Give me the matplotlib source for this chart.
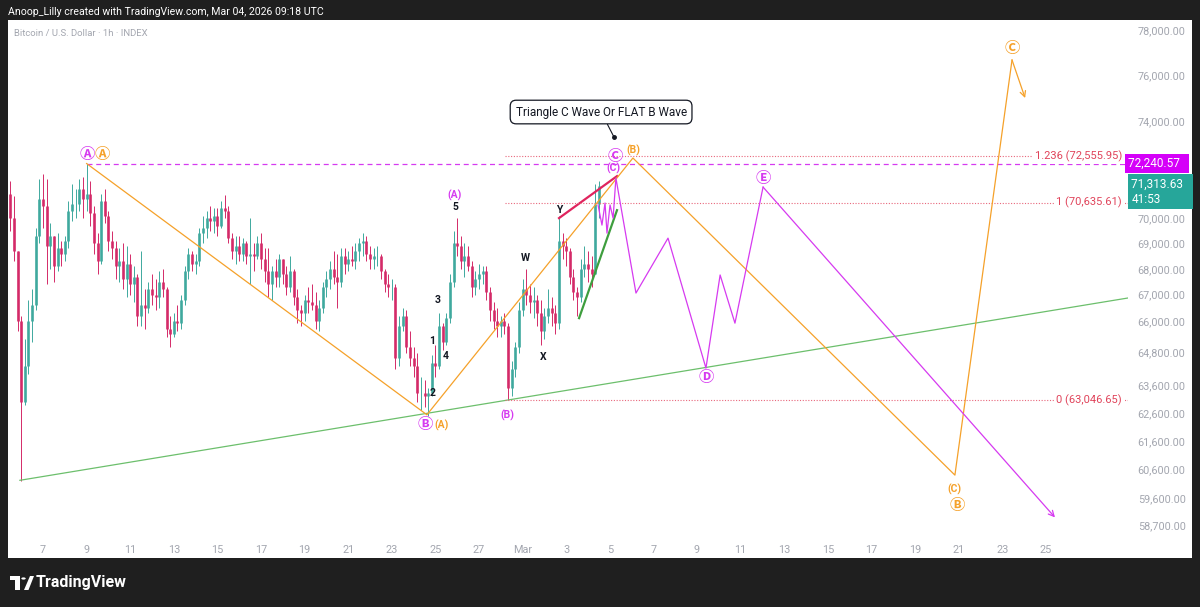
import numpy as np
import matplotlib
matplotlib.use("Agg")
import matplotlib.pyplot as plt
from matplotlib import transforms
from matplotlib.patches import Rectangle, Polygon, Circle
from matplotlib.ticker import NullLocator, NullFormatter

plt.rcParams['font.family'] = ['Roboto', 'DejaVu Sans', 'Noto Sans CJK JP']

# x axis is "day of February" (Mar 1 = 29), bars are 4h, first bar Feb 5 12:00
FIRST_BAR = 5.5
BAR_STEP = 1 / 6
first_open = 71000

highs = [71500, 70900, 68300, 66200, 65300, 66800, 67200, 69600, 71600, 71800,
         71600, 69800, 69300, 69400, 69100, 69300, 70700, 71400, 71200, 71600,
         71700, 72240, 71500, 70500, 69400, 71000, 71200, 70300, 69500, 69100,
         68800, 69000, 68900, 68600, 68100, 67800, 68700, 67200, 67500, 67800,
         67600, 67900, 68000, 67300, 66200, 66300, 66600, 67000, 68100, 68800,
         68700, 68600, 69600, 70100, 70300, 70500, 70400, 70400, 70700, 70950,
         70500, 69400, 69300, 69300, 69200, 69100, 70000, 69000, 69300, 69400,
         68800, 68800, 68100, 68400, 68600, 68400, 68100, 68500, 68000, 67200,
         66600, 67000, 67300, 67400, 67100, 66800, 67500, 67900, 68300, 68700,
         68600, 68800, 68800, 68700, 68900, 69000, 69200, 69400, 69300, 68900,
         68800, 68900, 68600, 68000, 67800, 67600, 67400, 66200, 66500, 66400,
         65600, 65000, 64800, 63900, 63800, 63500, 64700, 65100, 66300, 65900,
         66300, 67800, 69500, 70000, 69300, 69000, 68900, 68300, 67900, 68200,
         68100, 68100, 67300, 66700, 66500, 66200, 66300, 65900, 64500, 65200,
         66700, 67600, 68000, 67400, 67300, 67000, 66800, 66500, 67200, 66900,
         66600, 70100, 69400, 69200, 68800, 68000, 67300, 68400, 68900, 68700,
         68500, 71400, 71500]
lows = [69500, 68300, 65600, 60200, 62900, 64000, 65200, 66400, 69000, 69600,
        67400, 68000, 67500, 67900, 68100, 68300, 68800, 69900, 70000, 70300,
        70000, 70300, 69700, 68600, 67800, 68200, 69800, 68700, 68400, 67600,
        67500, 67200, 66900, 67000, 66700, 65800, 65800, 65700, 66300, 66600,
        66400, 66500, 66900, 65400, 65000, 65400, 65600, 65700, 66600, 67600,
        67900, 67800, 68100, 69000, 69200, 69500, 69400, 69300, 69600, 70000,
        69000, 68400, 68200, 68300, 68300, 68200, 67400, 67900, 68400, 68000,
        67500, 66900, 66800, 67300, 67300, 67400, 67000, 67100, 66600, 65900,
        65800, 66000, 66300, 66400, 65700, 65600, 66300, 66900, 67200, 67400,
        66500, 67300, 67800, 67900, 68100, 68000, 68300, 68500, 68300, 68000,
        68000, 68100, 67600, 67100, 66900, 66800, 64200, 64300, 65600, 64800,
        64300, 63900, 63000, 62700, 62800, 62500, 63200, 63900, 64200, 64900,
        65100, 65900, 67300, 68500, 68000, 67700, 67900, 66900, 67000, 67200,
        67400, 66800, 66000, 65700, 65400, 65400, 65500, 63050, 63200, 63900,
        64800, 66200, 66600, 66300, 66100, 65800, 65100, 65300, 65900, 65800,
        65500, 65700, 68400, 68100, 67400, 66800, 66200, 66700, 67700, 67500,
        67300, 67800, 70000]
closes = [70000, 68700, 66000, 63000, 64300, 66000, 66600, 69300, 70800, 70500,
          68900, 69300, 68100, 68800, 68600, 69100, 70300, 70600, 70600, 71200,
          70800, 71000, 70200, 69000, 68300, 70700, 70100, 69100, 68800, 68100,
          68300, 67600, 68200, 67400, 67700, 66200, 66600, 66500, 67200, 67000,
          66900, 67500, 67200, 65700, 65500, 66000, 65900, 66800, 67900, 68600,
          68200, 68300, 69400, 69600, 70000, 69900, 70100, 69700, 70400, 70300,
          69200, 68700, 68900, 68600, 69000, 68500, 68600, 68500, 69000, 68400,
          67900, 67400, 67900, 67700, 68400, 67800, 67300, 67900, 66900, 66400,
          66300, 66800, 66700, 66600, 66000, 66500, 67300, 67600, 68000, 67700,
          67500, 68500, 68200, 68400, 68300, 68700, 69000, 69100, 68600, 68400,
          68500, 68500, 67900, 67400, 67300, 67300, 64600, 65800, 66200, 65000,
          64600, 64300, 63300, 63300, 63200, 63300, 64400, 64300, 65800, 65200,
          66100, 67500, 69000, 68900, 68300, 68500, 68100, 67300, 67600, 67800,
          67900, 67100, 66400, 66000, 65800, 66000, 65800, 63500, 64200, 65000,
          66400, 67200, 67000, 66700, 66800, 66300, 65600, 66200, 66500, 66300,
          65900, 69100, 68900, 68700, 67700, 67100, 66900, 68000, 68200, 68000,
          67800, 70600, 71313.63]

# y axis ticks shown by TradingView (log scale)
price_ticks = [78000, 76000, 74000, 70000, 69000, 68000, 67000, 66000,
               64800, 63600, 62600, 61600, 60600, 59600, 58700]
date_ticks = [7, 9, 11, 13, 15, 17, 19, 21, 23, 25, 27, 29, 31, 33, 35, 37,
              39, 41, 43, 45, 47, 49, 51, 53]
date_labels = ["7", "9", "11", "13", "15", "17", "19", "21", "23", "25", "27",
               "Mar", "3", "5", "7", "9", "11", "13", "15", "17", "19", "21",
               "23", "25"]

# drawn wave paths (day, price)
orange_days = [9.0, 24.61, 34.06, 48.83, 51.45, 52.05]
orange_prices = [72240, 62530, 72470, 60400, 76670, 75010]
magenta_days = [32.46, 32.64, 32.78, 32.87, 33.01, 33.15, 33.28, 34.20,
                35.67, 37.41, 38.06, 38.74, 40.03, 53.42]
magenta_prices = [70540, 69730, 70620, 69410, 70540, 70010, 71640, 67060,
                  69210, 64230, 67760, 65910, 71270, 58950]
green_days = [5.94, 56.77]
green_prices = [60220, 66870]
green_short_days = [31.59, 33.33]
green_short_prices = [66100, 70330]
red_days = [30.67, 33.33]
red_prices = [70010, 71720]

fib_levels = [72555.95, 70635.61, 63046.65]
fib_names = ["1.236", "1", "0"]
last_price = 71313.63
dashed_level = 72240.57

# wave labels: text, day, price, colour
MAG = "#d63af0"
ORG = "#f5a12a"
INK = "#131722"
wave_labels = [
    ("\u24b6", 9.02, 72600, MAG), ("\u24b6", 9.71, 72600, ORG),
    ("(A)", 25.90, 70950, MAG), ("5", 25.90, 70450, INK),
    ("3", 25.12, 66790, INK), ("1", 24.84, 65230, INK),
    ("4", 25.49, 64670, INK), ("2", 24.89, 63310, INK),
    ("\u24b7", 24.55, 62160, MAG), ("(A)", 25.30, 62160, ORG),
    ("(B)", 28.28, 62520, MAG),
    ("W", 29.11, 68420, INK), ("X", 29.94, 64630, INK),
    ("Y", 30.67, 70330, INK),
    ("\u24b8", 33.24, 72510, MAG), ("(C)", 33.15, 72050, MAG),
    ("(B)", 34.06, 72800, ORG),
    ("\u24b9", 37.41, 63860, MAG), ("\u24ba", 40.03, 71600, MAG),
    ("(C)", 48.83, 59910, ORG), ("\u24b7", 48.93, 59340, ORG),
    ("\u24b8", 51.45, 77150, ORG),
]

W, H = 1200, 607


def fx(px):
    return px / W


def fy(py):
    return 1 - py / H


fig = plt.figure(figsize=(12, 6.07), dpi=100)
fig.patch.set_facecolor("#1f1f1f")
fig.add_artist(Rectangle((fx(8), fy(558)), fx(1184), (558 - 20) / H,
                         transform=fig.transFigure, fc="white", ec="none",
                         zorder=-5))

ax = fig.add_axes([fx(8), fy(537), fx(1120), (537 - 20) / H])
ax.set_facecolor("white")
ax.set_yscale("log")
ax.set_xlim(5.394, 56.77)
ax.set_ylim(58290, 78450)
for s in ax.spines.values():
    s.set_visible(False)

# candles
closes_a = np.array(closes, dtype=float)
opens_a = np.r_[first_open, closes_a[:-1]]
highs_a = np.maximum(np.array(highs, dtype=float), np.maximum(opens_a, closes_a))
lows_a = np.minimum(np.array(lows, dtype=float), np.minimum(opens_a, closes_a))
xs = FIRST_BAR + BAR_STEP * np.arange(len(closes_a))
cols = np.where(closes_a >= opens_a, "#3fa99e", "#d42a68")
ax.vlines(xs, lows_a, highs_a, colors=cols, lw=0.7, zorder=2)
ax.vlines(xs, np.minimum(opens_a, closes_a), np.maximum(opens_a, closes_a),
          colors=cols, lw=1.9, zorder=2)

# trend lines and wave paths
ax.plot(green_days, green_prices, color="#6cbf6c", lw=0.9, zorder=3)
ax.plot(green_short_days, green_short_prices, color="#3e9e3e", lw=1.6, zorder=3)
ax.plot(red_days, red_prices, color="#e0245e", lw=1.6, zorder=3)
ax.plot(orange_days[:-1], orange_prices[:-1], color=ORG, lw=0.9, zorder=4)
ax.annotate("", xy=(orange_days[-1], orange_prices[-1]),
            xytext=(orange_days[-2], orange_prices[-2]),
            arrowprops=dict(arrowstyle="->", color=ORG, lw=0.9,
                            shrinkA=0, shrinkB=0, mutation_scale=10), zorder=4)
ax.plot(magenta_days[:-1], magenta_prices[:-1], color=MAG, lw=0.9, zorder=4)
ax.annotate("", xy=(magenta_days[-1], magenta_prices[-1]),
            xytext=(magenta_days[-2], magenta_prices[-2]),
            arrowprops=dict(arrowstyle="->", color=MAG, lw=0.9,
                            shrinkA=0, shrinkB=0, mutation_scale=10), zorder=4)

# horizontal levels
blend = transforms.blended_transform_factory(ax.transAxes, ax.transData)
ax.plot([9.0, 56.77], [dashed_level] * 2, color=MAG, lw=0.9,
        dashes=(4, 3), zorder=3)
for lvl, name in zip(fib_levels, fib_names):
    ax.plot([28.19, 56.77], [lvl, lvl], color="#e8677c", lw=0.8,
            dashes=(1, 1.5), zorder=3)
    ax.text(0.9946, lvl, f"{name} ({lvl:,.2f})", transform=blend,
            ha="right", va="center", fontsize=8, color="#e0435a", zorder=5,
            bbox=dict(boxstyle="square,pad=0.25", fc="white", ec="none"))

# wave labels
for txt, d, p, c in wave_labels:
    circled = len(txt) == 1 and ord(txt) > 0x2000
    ax.text(d, p, txt, color=c, ha="center", va="center",
            fontsize=11 if circled else 7.5,
            fontweight="bold", zorder=6)

# comment box
ax.annotate("Triangle C Wave Or FLAT B Wave", xy=(33.19, 73350),
            xytext=(32.60, 74410), ha="center", va="center", fontsize=8.5,
            color=INK, zorder=7,
            bbox=dict(boxstyle="round,pad=0.45,rounding_size=0.5", fc="white",
                      ec=INK, lw=0.9),
            arrowprops=dict(arrowstyle="-", color=INK, lw=0.8,
                            shrinkA=0, shrinkB=0))
ax.plot([33.19], [73350], "o", ms=2.5, color=INK, zorder=7)

# axes ticks
ax.yaxis.tick_right()
ax.set_yticks(price_ticks)
ax.set_yticklabels([f"{v:,.2f}" for v in price_ticks])
ax.yaxis.set_minor_locator(NullLocator())
ax.yaxis.set_minor_formatter(NullFormatter())
ax.tick_params(axis="y", length=0, pad=7, labelsize=7.8, labelcolor="#a3a6af")
ax.set_xticks(date_ticks)
ax.set_xticklabels(date_labels)
ax.tick_params(axis="x", length=0, pad=6, labelsize=7.8, labelcolor="#a3a6af")

# price boxes on the scale
ax.text(1.0, dashed_level, f"{dashed_level:,.2f}  ", transform=blend,
        ha="left", va="center", fontsize=8.5, color="white", zorder=8,
        clip_on=False,
        bbox=dict(boxstyle="square,pad=0.25", fc="#d500f9", ec="none"))
ax.annotate(f"{last_price:,.2f}  \n41:53", xy=(1.0, last_price),
            xycoords=blend, xytext=(2.5, 6), textcoords="offset points",
            ha="left", va="top", fontsize=8.5, color="white", linespacing=1.2,
            annotation_clip=False, zorder=8,
            bbox=dict(boxstyle="square,pad=0.3", fc="#26a69a", ec="none"))

# header / footer
fig.text(fx(8), fy(12), "Anoop_Lilly created with TradingView.com, Mar 04, 2026 09:18 UTC",
         color="white", fontsize=7.6, va="center", ha="left")
fig.text(fx(14), fy(33), "Bitcoin / U.S. Dollar \u00b7 1h \u00b7 INDEX",
         color="#a3a6af", fontsize=6.8, va="center", ha="left")
fig.add_artist(Rectangle((fx(10), fy(580)), fx(10), 4 / H,
                         transform=fig.transFigure, fc="white", ec="none"))
fig.add_artist(Rectangle((fx(15), fy(590)), fx(5), 14 / H,
                         transform=fig.transFigure, fc="white", ec="none"))
fig.add_artist(Circle((fx(23.5), fy(578.5)), 2.2 / W,
                      transform=fig.transFigure, fc="white", ec="none"))
fig.add_artist(Polygon([(fx(24), fy(590)), (fx(30), fy(576)), (fx(34), fy(576)),
                        (fx(28.5), fy(590))], closed=True,
                       transform=fig.transFigure, fc="white", ec="none"))
fig.text(fx(36), fy(583), "TradingView", color="white", fontsize=11.5,
         fontweight="bold", va="center", ha="left")

fig.savefig("out.png", dpi=100, facecolor=fig.get_facecolor())
